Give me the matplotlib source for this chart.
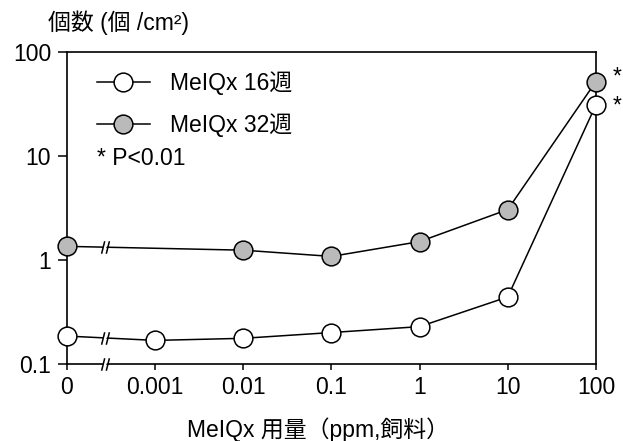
import matplotlib
matplotlib.use("Agg")
import matplotlib.pyplot as plt
import numpy as np
from matplotlib.path import Path
from matplotlib.lines import Line2D

plt.rcParams['font.family'] = ['Liberation Sans', 'Noto Sans CJK JP']
plt.rcParams['font.size'] = 16.5

# data
doses = ['0', '0.001', '0.01', '0.1', '1', '10', '100']
wk16 = [0.185, 0.168, 0.176, 0.200, 0.228, 0.44, 31.0]
wk32 = [1.35, None, 1.24, 1.08, 1.50, 3.05, 52.0]
yticks = [0.1, 1, 10, 100]
ytick_labels = ['0.1', '1', '10', '100']

x = np.arange(len(doses))

fig = plt.figure(figsize=(6.23, 4.41), dpi=100)
ax = fig.add_axes([0.1075, 0.175, 0.849, 0.707])

ms = 13.5
gray = '#bababa'
x32 = [xi for xi, v in zip(x, wk32) if v is not None]
y32 = [v for v in wk32 if v is not None]
ax.plot(x, wk16, '-', color='black', lw=1.1, marker='o', ms=ms,
        mfc='white', mec='black', mew=1.1, clip_on=False, zorder=3)
ax.plot(x32, y32, '-', color='black', lw=1.1, marker='o', ms=ms,
        mfc=gray, mec='black', mew=1.1, clip_on=False, zorder=3)

ax.set_yscale('log')
ax.set_ylim(0.1, 100)
ax.set_xlim(0, len(doses) - 1)
ax.set_yticks(yticks)
ax.set_yticklabels(ytick_labels)
ax.yaxis.set_minor_locator(plt.NullLocator())
ax.set_xticks(x)
ax.set_xticklabels(doses)

for s in ax.spines.values():
    s.set_linewidth(1.2)
ax.tick_params(axis='y', direction='out', length=6.5, width=1.1, pad=5)
ax.tick_params(axis='x', direction='out', length=4, width=1.1, pad=5)

# axis break "//" between 0 and 0.001
slash = Path([(-2.5, -4), (-0.5, 4), (0.5, -4), (2.5, 4)],
             [Path.MOVETO, Path.LINETO, Path.MOVETO, Path.LINETO])
gap = Path([(-1.6, -4), (0.4, 4), (0.6, 4), (-1.4, -4), (-1.6, -4)],
           [Path.MOVETO, Path.LINETO, Path.LINETO, Path.LINETO, Path.CLOSEPOLY])
xb = 0.43
yb = [0.1,
      10 ** np.interp(xb, [0, 1], np.log10([wk16[0], wk16[1]])),
      10 ** np.interp(xb, [0, 2], np.log10([wk32[0], wk32[2]]))]
for yy in yb:
    ax.plot([xb], [yy], marker=gap, ms=9, mfc='white', mec='white', mew=2,
            ls='none', clip_on=False, zorder=4)
    ax.plot([xb], [yy], marker=slash, ms=9, mec='black', mew=1.1,
            ls='none', clip_on=False, zorder=5)

# significance stars
for v, dy in ((wk32[-1], 3.2), (wk16[-1], -1)):
    ax.annotate('*', xy=(x[-1], v), xytext=(12, dy), textcoords='offset points',
                ha='left', va='center')

handles = [Line2D([], [], color='black', lw=1.1, marker='o', ms=ms,
                  mfc='white', mec='black', mew=1.1),
           Line2D([], [], color='black', lw=1.1, marker='o', ms=ms,
                  mfc=gray, mec='black', mew=1.1)]
ax.legend(handles, ['MeIQx 16週', 'MeIQx 32週'], loc='upper left',
          bbox_to_anchor=(0.057, 0.938), frameon=False, borderpad=0,
          borderaxespad=0, handlelength=2.3, handletextpad=0.9,
          labelspacing=0.8)
ax.text(0.057, 0.66, '* P<0.01', transform=ax.transAxes,
        ha='left', va='center')

fig.text(0.077, 0.932, '個数 (個 /cm²)', ha='left', va='baseline')
fig.text(0.300, 0.008, 'MeIQx 用量（ppm,飼料）', ha='left', va='baseline')

fig.savefig('out.png', dpi=100)
